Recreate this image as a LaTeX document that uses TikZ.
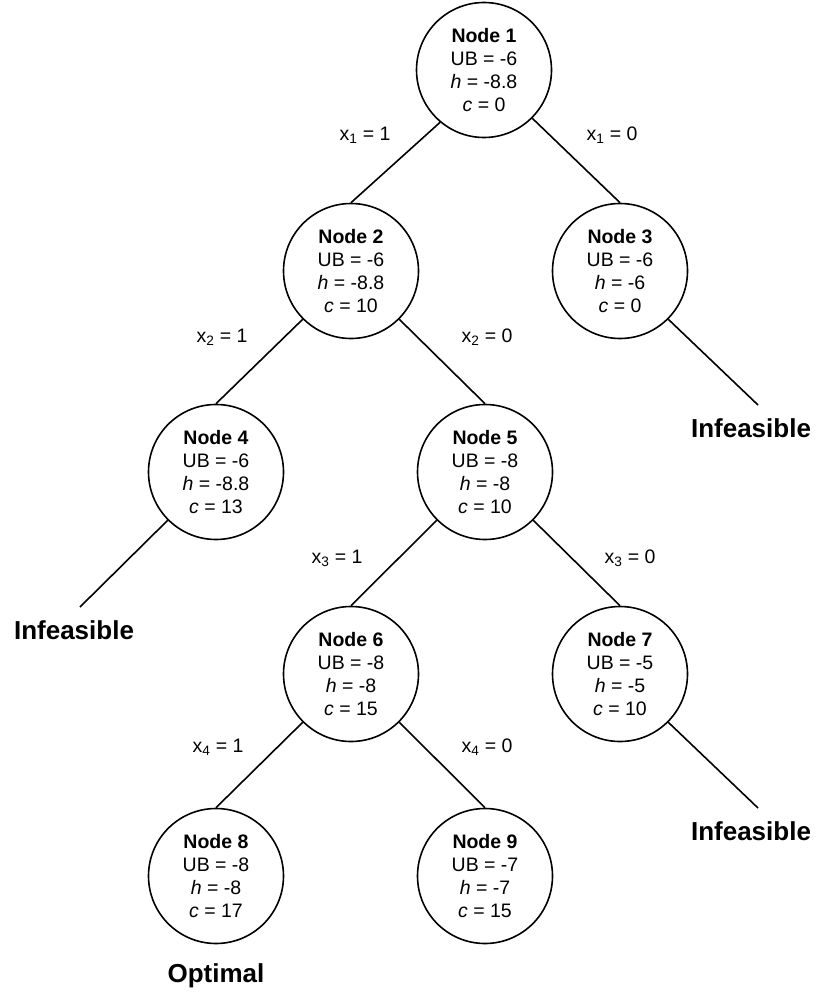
\documentclass[tikz,border=0pt]{standalone}
\usepackage{fontspec}
\setmainfont{Liberation Sans}
\usetikzlibrary{positioning}
\tikzset{
    treenode/.style={draw, circle, minimum size=135pt, inner sep=0pt, line width=1.6pt, align=center, font=\fontsize{19.5}{23}\selectfont},
    branchlabel/.style={font=\fontsize{19.5}{23}\selectfont},
    outcome/.style={font=\fontsize{26}{30}\selectfont\bfseries},
    branch/.style={line width=1.6pt},
}

\begin{document}
\begin{tikzpicture}[x=1pt, y=-1pt]
    \useasboundingbox (0,0) rectangle (817,995);
    % tree nodes
    \node[treenode] (n1) at (484,70) {\textbf{Node 1}\\UB = -6\\\textit{h} = -8.8\\\textit{c} = 0};
    \node[treenode] (n2) at (351,271) {\textbf{Node 2}\\UB = -6\\\textit{h} = -8.8\\\textit{c} = 10};
    \node[treenode] (n3) at (620,271) {\textbf{Node 3}\\UB = -6\\\textit{h} = -6\\\textit{c} = 0};
    \node[treenode] (n4) at (216,472) {\textbf{Node 4}\\UB = -6\\\textit{h} = -8.8\\\textit{c} = 13};
    \node[treenode] (n5) at (485,472) {\textbf{Node 5}\\UB = -8\\\textit{h} = -8\\\textit{c} = 10};
    \node[treenode] (n6) at (351,674) {\textbf{Node 6}\\UB = -8\\\textit{h} = -8\\\textit{c} = 15};
    \node[treenode] (n7) at (620,674) {\textbf{Node 7}\\UB = -5\\\textit{h} = -5\\\textit{c} = 10};
    \node[treenode] (n8) at (216,876) {\textbf{Node 8}\\UB = -8\\\textit{h} = -8\\\textit{c} = 17};
    \node[treenode] (n9) at (485,876) {\textbf{Node 9}\\UB = -7\\\textit{h} = -7\\\textit{c} = 15};

    % pruned ends
    \coordinate (e3) at (758,405);
    \coordinate (e4) at (80,607);
    \coordinate (e7) at (758,808);
    \node[outcome] (inf3) at (751,428) {Infeasible};
    \node[outcome] (inf4) at (74,630) {Infeasible};
    \node[outcome] (inf7) at (751,831) {Infeasible};
    \node[outcome] (opt8) at (216,976) {Optimal};

    % branches
    \draw[branch] (n1.230) -- (n2.north);
    \draw[branch] (n1.-45) -- (n3.north);
    \draw[branch] (n2.225) -- (n4.north);
    \draw[branch] (n2.-45) -- (n5.north);
    \draw[branch] (n3.-45) -- (e3);
    \draw[branch] (n4.225) -- (e4);
    \draw[branch] (n5.225) -- (n6.north);
    \draw[branch] (n5.-45) -- (n7.north);
    \draw[branch] (n6.225) -- (n8.north);
    \draw[branch] (n6.-45) -- (n9.north);
    \draw[branch] (n7.-45) -- (e7);

    % branch labels
    \node[branchlabel] (l11) at (365,135) {x\textsubscript{1} = 1};
    \node[branchlabel] (l10) at (612,135) {x\textsubscript{1} = 0};
    \node[branchlabel] (l21) at (222,337) {x\textsubscript{2} = 1};
    \node[branchlabel] (l20) at (487,337) {x\textsubscript{2} = 0};
    \node[branchlabel] (l31) at (337,558) {x\textsubscript{3} = 1};
    \node[branchlabel] (l30) at (630,558) {x\textsubscript{3} = 0};
    \node[branchlabel] (l41) at (218,747) {x\textsubscript{4} = 1};
    \node[branchlabel] (l40) at (487,747) {x\textsubscript{4} = 0};
\end{tikzpicture}
\end{document}
